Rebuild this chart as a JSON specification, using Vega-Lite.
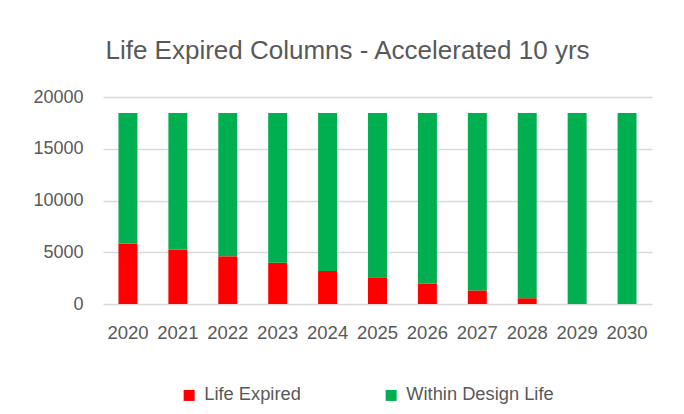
{
  "$schema": "https://vega.github.io/schema/vega-lite/v6.json",
  "autosize": {"type": "none"},
  "width": 549,
  "height": 207,
  "padding": {"left": 103, "top": 97, "right": 32, "bottom": 110},
  "background": "white",
  "title": {
    "text": "Life Expired Columns - Accelerated 10 yrs",
    "font": "Liberation Sans",
    "fontSize": 26,
    "fontWeight": "normal",
    "color": "#595959",
    "anchor": "middle",
    "dx": -30,
    "offset": 24
  },
  "data": {
    "values": [
      {"year": "2020", "series": "Life Expired", "value": 5850},
      {"year": "2021", "series": "Life Expired", "value": 5230},
      {"year": "2022", "series": "Life Expired", "value": 4610},
      {"year": "2023", "series": "Life Expired", "value": 3990},
      {"year": "2024", "series": "Life Expired", "value": 3200},
      {"year": "2025", "series": "Life Expired", "value": 2580},
      {"year": "2026", "series": "Life Expired", "value": 1960},
      {"year": "2027", "series": "Life Expired", "value": 1310},
      {"year": "2028", "series": "Life Expired", "value": 560},
      {"year": "2029", "series": "Life Expired", "value": 0},
      {"year": "2030", "series": "Life Expired", "value": 0},
      {"year": "2020", "series": "Within Design Life", "value": 12600},
      {"year": "2021", "series": "Within Design Life", "value": 13220},
      {"year": "2022", "series": "Within Design Life", "value": 13840},
      {"year": "2023", "series": "Within Design Life", "value": 14460},
      {"year": "2024", "series": "Within Design Life", "value": 15250},
      {"year": "2025", "series": "Within Design Life", "value": 15870},
      {"year": "2026", "series": "Within Design Life", "value": 16490},
      {"year": "2027", "series": "Within Design Life", "value": 17140},
      {"year": "2028", "series": "Within Design Life", "value": 17890},
      {"year": "2029", "series": "Within Design Life", "value": 18450},
      {"year": "2030", "series": "Within Design Life", "value": 18450}
    ]
  },
  "mark": {"type": "bar"},
  "encoding": {
    "x": {
      "field": "year",
      "type": "ordinal",
      "title": null,
      "scale": {"paddingInner": 0.62, "paddingOuter": 0.31},
      "axis": {
        "labelAngle": 0,
        "labelFont": "Liberation Sans",
        "labelFontSize": 18.5,
        "labelColor": "#595959",
        "labelPadding": 19,
        "ticks": false,
        "domain": false
      }
    },
    "y": {
      "field": "value",
      "type": "quantitative",
      "stack": "zero",
      "title": null,
      "scale": {"domain": [0, 20000], "nice": false},
      "axis": {
        "values": [0, 5000, 10000, 15000, 20000],
        "format": "d",
        "labelFont": "Liberation Sans",
        "labelFontSize": 18,
        "labelColor": "#595959",
        "labelPadding": 20,
        "ticks": false,
        "domain": false,
        "gridColor": "#d9d9d9",
        "gridWidth": 1.5
      }
    },
    "order": {"field": "series", "sort": "ascending"},
    "color": {
      "field": "series",
      "type": "nominal",
      "scale": {"domain": ["Life Expired", "Within Design Life"], "range": ["#FF0000", "#00B050"]},
      "legend": {
        "title": null,
        "orient": "none",
        "direction": "horizontal",
        "legendX": 77,
        "legendY": 289,
        "symbolType": "square",
        "symbolSize": 121,
        "symbolStrokeWidth": 0,
        "labelFont": "Liberation Sans",
        "labelFontSize": 18.3,
        "labelColor": "#595959",
        "columnPadding": 81,
        "labelOffset": 6
      }
    }
  },
  "config": {"view": {"stroke": null}}
}
